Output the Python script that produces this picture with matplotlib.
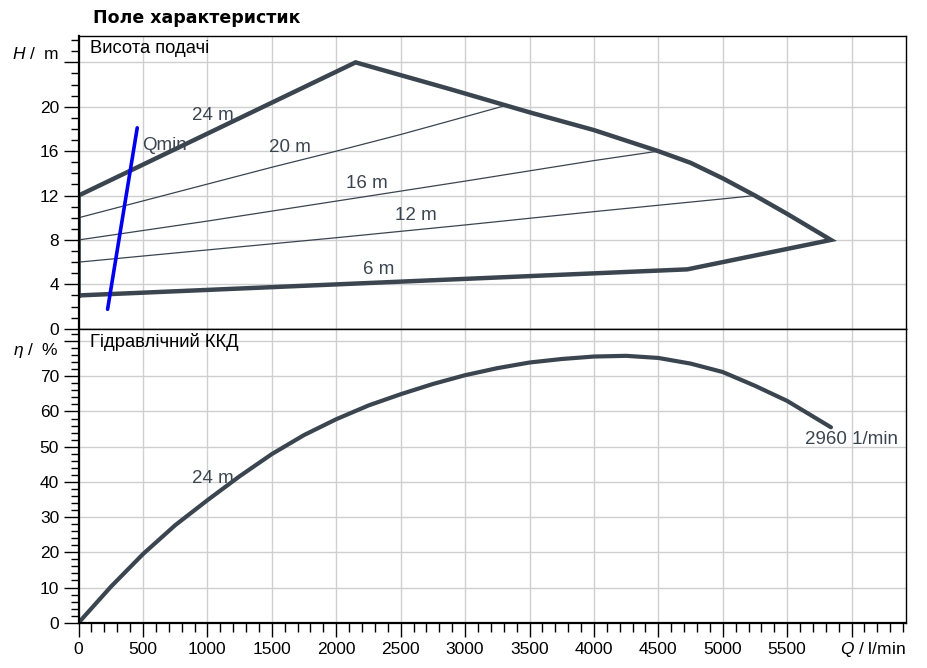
import matplotlib
matplotlib.use("Agg")
import matplotlib.pyplot as plt
from matplotlib.ticker import MultipleLocator, FixedLocator

plt.rcParams['font.family'] = ['Liberation Sans', 'DejaVu Sans']
plt.rcParams['mathtext.fontset'] = 'custom'
plt.rcParams['mathtext.it'] = 'Liberation Sans:italic'
plt.rcParams['mathtext.rm'] = 'Liberation Sans'

# --- data ---
# envelope of the working field (Q in l/min, H in m)
q_top = [0, 2150, 2880, 3500, 4000, 4500, 4750, 5000, 5250, 5500, 5840]
h_top = [12.0, 24.0, 21.6, 19.5, 17.9, 16.0, 14.95, 13.55, 12.0, 10.35, 8.0]
q_bottom = [5840, 4725, 0]
h_bottom = [8.0, 5.35, 3.0]

# thin control curves
q20 = [0, 1500, 2000, 2500, 3000, 3310]
h20 = [10.0, 14.55, 16.0, 17.5, 19.1, 20.1]
q16 = [0, 1000, 2000, 3000, 4000, 4500]
h16 = [8.0, 9.7, 11.5, 13.3, 15.15, 16.0]
q12 = [0, 1000, 2000, 3000, 4000, 5000, 5250]
h12 = [6.0, 7.1, 8.2, 9.35, 10.55, 11.7, 12.0]

# Qmin line
q_qmin = [225, 455]
h_qmin = [1.75, 18.1]

# hydraulic efficiency
q_eta = [0, 250, 500, 750, 1000, 1250, 1500, 1750, 2000, 2250, 2500, 2750,
         3000, 3250, 3500, 3750, 4000, 4250, 4500, 4750, 5000, 5250, 5500, 5840]
eta = [0, 10.2, 19.5, 27.7, 34.8, 41.6, 47.9, 53.3, 57.8, 61.7, 64.9, 67.8,
       70.3, 72.3, 73.9, 74.9, 75.6, 75.8, 75.2, 73.6, 71.2, 67.3, 63.0, 55.5]

x_ticks = [0, 500, 1000, 1500, 2000, 2500, 3000, 3500, 4000, 4500, 5000, 5500, 6000]
x_labels = ['0', '500', '1000', '1500', '2000', '2500', '3000', '3500', '4000',
            '4500', '5000', '5500', '']
h_ticks = [0, 4, 8, 12, 16, 20, 24]
h_labels = ['0', '4', '8', '12', '16', '20', '$\\it{H}$ /  m']
eta_ticks = [0, 10, 20, 30, 40, 50, 60, 70, 80]
eta_labels = ['0', '10', '20', '30', '40', '50', '60', '70', '$\\it{\\eta}$ /  %']

line_col = '#3b4550'
grid_col = '#cfcfcf'

fig = plt.figure(figsize=(9.27, 6.68), dpi=100)
ax1 = fig.add_axes([0.0848, 0.5079, 0.8922, 0.4386])
ax2 = fig.add_axes([0.0848, 0.0678, 0.8922, 0.4401])

for ax in (ax1, ax2):
    ax.set_xlim(0, 6420)
    ax.xaxis.set_major_locator(FixedLocator(x_ticks))
    ax.xaxis.set_minor_locator(MultipleLocator(100))
    ax.grid(True, which='major', color=grid_col, linewidth=1.0)
    ax.set_axisbelow(True)
    for s in ax.spines.values():
        s.set_color('black')
        s.set_linewidth(1.0)
    ax.spines['left'].set_linewidth(1.6)
    ax.tick_params(axis='y', which='major', direction='out', length=11, width=1.0,
                   labelsize=12.5, pad=3)
    ax.tick_params(axis='y', which='minor', direction='out', length=6, width=1.0)

# --- upper panel: head ---
ax1.set_ylim(0, 26.4)
ax1.yaxis.set_major_locator(FixedLocator(h_ticks))
ax1.set_yticklabels(h_labels)
ax1.get_yticklabels()[-1].set_va('bottom')
ax1.yaxis.set_minor_locator(MultipleLocator(1))
ax1.tick_params(axis='x', which='both', bottom=False, labelbottom=False)

ax1.plot(q20, h20, color=line_col, linewidth=0.9)
ax1.plot(q16, h16, color=line_col, linewidth=0.9)
ax1.plot(q12, h12, color=line_col, linewidth=0.9)
ax1.plot([0] + q_top + q_bottom, [h_bottom[-1]] + h_top + h_bottom,
         color=line_col, linewidth=3.2, solid_joinstyle='miter')
ax1.plot(q_qmin, h_qmin, color='#0000ee', linewidth=2.6, solid_capstyle='round')

lbl = dict(color=line_col, fontsize=13.5, ha='center', va='center')
ax1.text(1040, 19.2, '24 m', **lbl)
ax1.text(490, 16.5, 'Qmin', color=line_col, fontsize=13.5, ha='left', va='center')
ax1.text(1640, 16.3, '20 m', **lbl)
ax1.text(2240, 13.1, '16 m', **lbl)
ax1.text(2620, 10.2, '12 m', **lbl)
ax1.text(2330, 5.3, '6 m', **lbl)
ax1.text(0.014, 0.985, 'Висота подачі', transform=ax1.transAxes,
         fontsize=13.2, ha='left', va='top')

# --- lower panel: efficiency ---
ax2.set_ylim(0, 83.5)
ax2.yaxis.set_major_locator(FixedLocator(eta_ticks))
ax2.set_yticklabels(eta_labels)
ax2.get_yticklabels()[-1].set_va('top')
ax2.yaxis.set_minor_locator(MultipleLocator(2))
ax2.set_xticklabels(x_labels)
ax2.tick_params(axis='x', which='major', direction='out', length=10, width=1.0,
                labelsize=12.5, pad=4)
ax2.tick_params(axis='x', which='minor', direction='out', length=6.5, width=1.0)
ax2.spines['bottom'].set_linewidth(1.6)
ax2.text(6420, -0.09, '$\\it{Q}$ / l/min', transform=ax2.get_xaxis_transform(),
         fontsize=12.5, ha='right', va='center')

ax2.plot(q_eta, eta, color=line_col, linewidth=3.0, solid_capstyle='round')
ax2.text(1040, 41, '24 m', **lbl)
ax2.text(5640, 51.9, '2960 1/min', color=line_col, fontsize=13.5, ha='left', va='center')
ax2.text(0.014, 0.985, 'Гідравлічний ККД', transform=ax2.transAxes,
         fontsize=13.2, ha='left', va='top')

fig.text(93 / 927, 1 - 18 / 668, 'Поле характеристик', fontsize=12.5,
         fontweight='bold', family='DejaVu Sans', ha='left', va='center')

fig.savefig('out.png', dpi=100)
